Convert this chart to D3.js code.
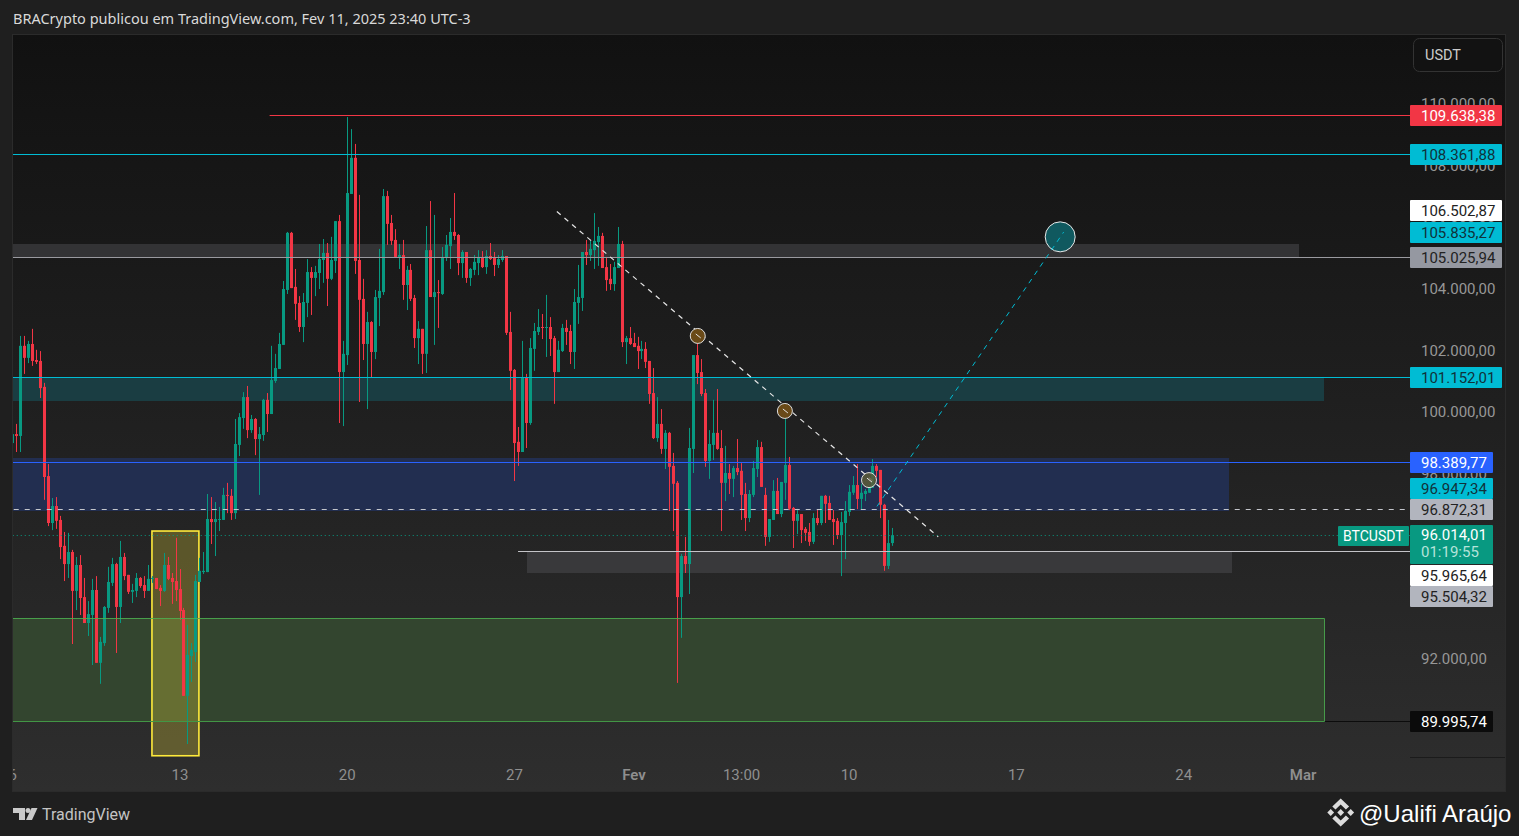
<!DOCTYPE html>
<html>
<head>
<meta charset="utf-8">
<title>BTCUSDT</title>
<script src="https://cdn.jsdelivr.net/npm/d3@7/dist/d3.min.js"></script>
<style>
  html, body { margin: 0; padding: 0; background: #1f1f1f; overflow: hidden; }
  svg { display: block; font-family: Roboto, sans-serif; }
</style>
</head>
<body>
<div id="chart"></div>
<script>
// 4h candles, first one opens Jan 6 2025 00:00
var opens = [
  99000, 99290, 99230, 102150, 101760, 102210, 101690, 101660, 100820, 97930,
  96410, 96960, 96510, 95670, 95080, 95470, 94210, 95050, 94010, 93170,
  93430, 94240, 91880, 92520, 93660, 94470, 95080, 93690, 95310, 94730,
  94180, 94210, 94630, 94400, 94210, 94600, 94630, 94310, 94210, 95050,
  94630, 94530, 94270, 93590, 90810, 92100, 92230, 94500, 94820, 94820,
  96540, 96440, 96510, 96510, 97320, 97290, 96730, 98940, 99810, 100490,
  99420, 99780, 99130, 99260, 100400, 99940, 101010, 101400, 102180, 103960,
  105810, 104060, 103540, 102760, 103540, 104540, 104350, 104510, 104930, 105160,
  104320, 104900, 106190, 101300, 101850, 107070, 108240, 104930, 103670, 102210,
  102920, 101950, 103700, 103890, 107000, 106130, 105580, 105030, 105090, 104120,
  104610, 103700, 102400, 102700, 101890, 105250, 103730, 103890, 103830, 105000,
  105380, 105840, 105740, 104830, 105190, 104350, 104610, 104830, 105030, 104700,
  105060, 105000, 104770, 104930, 105060, 102600, 101370, 99040, 98710, 101110,
  99650, 102050, 102600, 102760, 102730, 102760, 102400, 101300, 101980, 102730,
  102630, 101950, 103540, 103700, 105190, 105090, 105250, 105510, 105710, 104700,
  104320, 104150, 104670, 105450, 102270, 102400, 102240, 102150, 101980, 102050,
  101660, 100620, 99160, 99620, 98810, 99330, 98260, 97710, 94010, 95340,
  95080, 98810, 101850, 101300, 100620, 98420, 98940, 99330, 98840, 97710,
  98030, 97840, 98190, 98100, 97350, 96570, 97320, 98160, 98870, 97320,
  95960, 96510, 97450, 96700, 97710, 98290, 96900, 96480, 96700, 96220,
  96120, 95800, 96570, 96410, 97290, 97060, 96540, 96480, 96020, 96410,
  96770, 97390, 97640, 97190, 97350, 97390, 97550, 98260, 98130, 97000,
  95020, 95760
];
var highs = [
  99290, 99620, 102470, 102470, 102310, 102700, 102020, 101980, 100950, 98320,
  97220, 97250, 96640, 96120, 96090, 95540, 95310, 95370, 94630, 93880,
  94600, 94690, 92720, 93720, 94990, 95280, 95120, 95830, 95440, 94730,
  94440, 94790, 94660, 94690, 95050, 94690, 94630, 94400, 95440, 95310,
  94790, 95930, 94920, 93660, 93110, 92520, 94730, 95280, 95470, 97350,
  97250, 97090, 96930, 97550, 97710, 97510, 99780, 99970, 100650, 100850,
  99910, 99810, 99520, 100430, 100620, 102150, 101890, 102570, 104250, 105840,
  105840, 104640, 103760, 103860, 104960, 104700, 104740, 105450, 105610, 105480,
  105680, 106190, 106390, 102310, 109560, 109170, 108690, 107040, 104320, 103250,
  102950, 103960, 105290, 107230, 107170, 106390, 105930, 105450, 105580, 104740,
  104800, 103800, 102950, 102700, 106030, 106840, 106390, 104280, 105350, 105740,
  106290, 107100, 105770, 105250, 105190, 104670, 105090, 105250, 105220, 105250,
  105480, 105190, 105090, 105250, 105060, 103250, 101400, 99520, 102310, 101240,
  102400, 102890, 103340, 103180, 103800, 103080, 102470, 102310, 102860, 102990,
  102830, 103990, 104770, 105190, 105580, 105550, 106450, 106000, 105810, 105030,
  104800, 104870, 106000, 105550, 102470, 102760, 102570, 102440, 102310, 102270,
  101660, 101430, 100490, 100100, 99420, 99360, 98680, 97770, 95410, 95960,
  99490, 101850, 102500, 101720, 100750, 99420, 100400, 100750, 99420, 98910,
  98320, 98260, 99130, 98350, 97710, 97480, 98420, 99100, 99040, 97550,
  96540, 97800, 97870, 97740, 100230, 98550, 96930, 96870, 96700, 96280,
  96410, 96730, 96830, 97290, 97320, 97290, 96830, 96570, 96770, 97120,
  97640, 97930, 98320, 97680, 97510, 97580, 98480, 98320, 98130, 97030,
  96510, 96250
];
var lows = [
  99000, 98710, 98710, 101240, 101590, 101500, 101560, 100460, 97160, 96310,
  96180, 96220, 95240, 94530, 94630, 92490, 93590, 93430, 93170, 92750,
  91810, 91880, 91200, 92430, 93500, 94370, 92200, 93170, 94560, 94110,
  93820, 94010, 94310, 93980, 94210, 94470, 94270, 93720, 94180, 94560,
  93790, 93880, 93270, 90810, 89250, 91260, 91910, 94500, 94760, 94820,
  95730, 95340, 96150, 96510, 96730, 96510, 96540, 98580, 99460, 99160,
  99330, 98610, 97320, 99070, 99360, 99940, 100950, 101400, 102180, 103830,
  104020, 102990, 102600, 102270, 103080, 103150, 103760, 103990, 104190, 103440,
  104280, 104510, 99650, 99550, 101530, 107070, 104480, 100330, 101690, 100100,
  101110, 101720, 102790, 103800, 105420, 105420, 105030, 104640, 103640, 103310,
  103600, 102080, 101560, 101240, 101270, 103730, 102180, 102730, 103800, 104900,
  104640, 105580, 104440, 104350, 104190, 104090, 104440, 104440, 104670, 104480,
  104930, 104410, 104670, 104870, 102500, 100720, 97770, 98260, 98710, 98840,
  99590, 101340, 102500, 102370, 101790, 101820, 100270, 101300, 101950, 102180,
  101560, 101400, 102860, 103280, 104770, 104900, 104640, 104740, 104670, 103930,
  103960, 103930, 104670, 102110, 101560, 102180, 102110, 101400, 101720, 101430,
  100270, 99130, 99040, 98650, 98160, 96800, 96150, 91230, 92690, 94790,
  94110, 98030, 100910, 100520, 98230, 97840, 98450, 98780, 96150, 97120,
  97350, 97250, 97960, 96510, 96150, 96440, 97250, 97900, 97580, 95670,
  95800, 96510, 96700, 96600, 97160, 96830, 95600, 96050, 95760, 95830,
  95670, 95730, 96340, 96340, 96410, 96510, 95700, 95890, 94690, 95240,
  96640, 97320, 96860, 96860, 97120, 97390, 97550, 97900, 96570, 94860,
  94920, 95670
];
var closes = [
  99290, 99230, 102150, 101760, 102210, 101660, 101630, 100780, 97900, 96410,
  96960, 96480, 95630, 95080, 95470, 94210, 95050, 93980, 93170, 93460,
  94240, 91880, 92560, 93690, 94500, 95080, 93690, 95310, 94690, 94180,
  94240, 94630, 94370, 94210, 94600, 94630, 94270, 94210, 95050, 94600,
  94500, 94240, 93560, 90810, 92140, 92300, 94530, 94860, 94860, 96540,
  96440, 96540, 96540, 97320, 97290, 96730, 98970, 99840, 100490, 99420,
  99780, 99130, 99290, 100400, 99940, 101040, 101430, 102210, 103990, 105810,
  104020, 103510, 102760, 103570, 104540, 104350, 104540, 104960, 105160, 104320,
  104930, 106190, 101300, 101890, 107100, 108240, 104900, 103640, 102210, 102920,
  101950, 103730, 103930, 107000, 106100, 105550, 105030, 105090, 104120, 104610,
  103670, 102400, 102700, 101890, 105250, 103730, 103890, 103860, 105030, 105420,
  105840, 105710, 104830, 105190, 104350, 104640, 104870, 105030, 104700, 105060,
  104960, 104770, 104960, 105060, 102570, 101340, 99000, 98710, 101110, 99650,
  102080, 102630, 102760, 102730, 102760, 102370, 101300, 102020, 102730, 102600,
  101950, 103570, 103730, 105190, 105090, 105290, 105550, 105710, 104670, 104280,
  104150, 104700, 105450, 102270, 102400, 102210, 102110, 101980, 102050, 101630,
  100590, 99160, 99620, 98810, 99330, 98230, 97680, 94010, 95340, 95080,
  98840, 101850, 101270, 100590, 98420, 98970, 99330, 98810, 97710, 98030,
  97840, 98190, 98060, 97320, 96570, 97350, 98190, 98870, 97580, 95960,
  96540, 97450, 96700, 97740, 98290, 96870, 96480, 96700, 96180, 96090,
  95800, 96570, 96410, 97290, 97030, 96510, 96440, 96020, 96440, 96800,
  97420, 97640, 97190, 97390, 97450, 97580, 98260, 98100, 97000, 95020,
  95760, 96014.01
];

var priceTicks = [110000, 108000, 106000, 104000, 102000, 100000, 98000, 96000, 94000, 92000, 90000];
var timeTicks = ["2025-01-06", "2025-01-13", "2025-01-20", "2025-01-27", "2025-02-01", "2025-02-05T12:00", "2025-02-10", "2025-02-17", "2025-02-24", "2025-03-01"];
var timeLabels = ["6", "13", "20", "27", "Fev", "13:00", "10", "17", "24", "Mar"];

// shaded price zones
var zoneTops = [105450, 101152.01, 98530, 95504.32, 93330];
var zoneBottoms = [105025.94, 100360, 96800, 94790, 89995.74];
var zoneStarts = ["2025-01-01", "2025-01-01", "2025-01-01", "2025-01-27T13:00", "2025-01-01"];
var zoneEnds = ["2025-02-28T20:40", "2025-03-01T21:00", "2025-02-25T21:40", "2025-02-26T01:00", "2025-03-01T21:00"];

// yellow box round the Jan 13 wick
var boxStart = "2025-01-11T20:20";
var boxEnd = "2025-01-13T19:30";
var boxTop = 96150;
var boxBottom = 88870;

// horizontal lines
var linePrices = [109638.38, 108361.88, 105025.94, 101152.01, 98389.77, 96872.31, 96014.01, 95504.32, 89995.74];
var lineStarts = ["2025-01-16T18:30", "2025-01-01", "2025-01-01", "2025-01-01", "2025-01-01", "2025-01-01", "2025-01-01", "2025-01-27T04:00", "2025-01-01"];

// diagonal trend and target lines
var trendTimes = ["2025-01-28T19:00", "2025-02-13T18:00"];
var trendPrices = [106502.87, 95965.64];
var targetTimes = ["2025-02-11T04:30", "2025-02-19T00:00"];
var targetPrices = [96947.34, 105835.27];

// touch points on the trend line
var touchTimes = ["2025-02-03T16:30", "2025-02-07T08:00", "2025-02-10T20:30"];
var touchPrices = [102470, 100040, 97800];
var goalTime = "2025-02-18T20:30";
var goalPrice = 105680;

// labels on the price scale
var tagPrices = [109638.38, 108361.88, 106502.87, 105835.27, 105025.94, 101152.01, 98389.77, 96947.34, 96872.31, 95965.64, 95504.32, 89995.74];

var svgWidth = 1519;
var svgHeight = 836;
var pane = { left: 13, right: 1506, top: 35, bottom: 792 };
var scaleX = 1410;
var axisY = 757;

var upColor = "#089981";
var downColor = "#f23645";

var zoneFills = ["#333335", "#1a3d42", "#222e50", "#39393b", "#33452f"];
var lineColors = ["#f23645", "#00bcd4", "#9a9aa0", "#00bcd4", "#2962ff", "#c4c6cc", "#089981", "#c4c4c8", "#0c0c0c"];
var lineDashes = [null, null, null, null, null, "5,6", "1,3", null, null];
var tagFills = ["#f23645", "#00bcd4", "#ffffff", "#00bcd4", "#9598a1", "#00bcd4", "#2962ff", "#00bcd4", "#b2b5be", "#ffffff", "#b2b5be", "#0b0b0b"];
var tagInks = ["#ffffff", "#10323a", "#222222", "#10323a", "#222222", "#10323a", "#ffffff", "#10323a", "#222222", "#222222", "#222222", "#ffffff"];
// the scale pushes crowded labels away from their price
var tagNudge = { 106502.87: -1, 96947.34: -18, 95965.64: 38, 95504.32: 45 };

var ptBR = d3.formatLocale({ decimal: ",", thousands: ".", grouping: [3], currency: ["", ""] });
var priceFormat = ptBR.format(",.2f");

function utc(s) {
  return new Date(s.length > 10 ? s + "Z" : s + "T00:00Z");
}

var x = d3.scaleUtc()
  .domain([utc("2025-01-13"), utc("2025-02-10")])
  .range([179.5, 848.6]);

var y = d3.scaleLinear()
  .domain([110000, 89995.74])
  .range([103.5, 721]);

function crisp(v) {
  return Math.round(v) + 0.5;
}

var candles = opens.map(function(o, i) {
  return {
    time: d3.utcHour.offset(utc("2025-01-06"), i * 4),
    open: o,
    high: highs[i],
    low: lows[i],
    close: closes[i]
  };
});

var svg = d3.select("#chart").append("svg")
  .attr("width", svgWidth)
  .attr("height", svgHeight);

var defs = svg.append("defs");

var grad = defs.append("linearGradient")
  .attr("id", "paneFill")
  .attr("x1", 0).attr("x2", 0).attr("y1", 0).attr("y2", 1);
grad.append("stop").attr("offset", "0%").attr("stop-color", "#111111");
grad.append("stop").attr("offset", "100%").attr("stop-color", "#2e2e2e");

defs.append("clipPath").attr("id", "paneClip").append("rect")
  .attr("x", pane.left)
  .attr("y", pane.top)
  .attr("width", pane.right - pane.left)
  .attr("height", pane.bottom - pane.top);

defs.append("clipPath").attr("id", "plotClip").append("rect")
  .attr("x", pane.left)
  .attr("y", pane.top)
  .attr("width", scaleX - pane.left)
  .attr("height", pane.bottom - pane.top);

svg.append("rect")
  .attr("x", pane.left - 0.5)
  .attr("y", pane.top - 0.5)
  .attr("width", pane.right - pane.left)
  .attr("height", pane.bottom - pane.top)
  .attr("fill", "url(#paneFill)")
  .attr("stroke", "#2b2b2b");

var plot = svg.append("g").attr("clip-path", "url(#plotClip)");

// zones
plot.selectAll(".zone")
  .data(zoneTops)
  .enter()
  .append("rect")
  .attr("class", "zone")
  .attr("x", (d, i) => Math.round(x(utc(zoneStarts[i]))))
  .attr("y", d => Math.round(y(d)))
  .attr("width", (d, i) => Math.round(x(utc(zoneEnds[i]))) - Math.round(x(utc(zoneStarts[i]))))
  .attr("height", (d, i) => Math.round(y(zoneBottoms[i])) - Math.round(y(d)))
  .attr("fill", (d, i) => zoneFills[i]);

plot.append("rect")
  .attr("x", x(utc(boxStart)))
  .attr("y", y(boxTop))
  .attr("width", x(utc(boxEnd)) - x(utc(boxStart)))
  .attr("height", y(boxBottom) - y(boxTop))
  .attr("fill", "#ffeb3b")
  .attr("fill-opacity", 0.25)
  .attr("stroke", "#ffeb3b")
  .attr("stroke-width", 1.6);

// candles
var candleGroup = plot.append("g");

candleGroup.selectAll(".wick")
  .data(candles)
  .enter()
  .append("rect")
  .attr("class", "wick")
  .attr("x", d => Math.round(x(d.time)))
  .attr("y", d => y(d.high))
  .attr("width", 1)
  .attr("height", d => y(d.low) - y(d.high))
  .attr("fill", d => d.close >= d.open ? upColor : downColor);

candleGroup.selectAll(".body")
  .data(candles)
  .enter()
  .append("rect")
  .attr("class", "body")
  .attr("x", d => Math.round(x(d.time)) - 1)
  .attr("y", d => y(Math.max(d.open, d.close)))
  .attr("width", 3)
  .attr("height", d => Math.max(1, Math.abs(y(d.open) - y(d.close))))
  .attr("fill", d => d.close >= d.open ? upColor : downColor);

// horizontal lines
plot.selectAll(".level")
  .data(linePrices)
  .enter()
  .append("line")
  .attr("class", "level")
  .attr("x1", (d, i) => x(utc(lineStarts[i])))
  .attr("x2", scaleX)
  .attr("y1", d => crisp(y(d)))
  .attr("y2", d => crisp(y(d)))
  .attr("stroke", (d, i) => lineColors[i])
  .attr("stroke-dasharray", (d, i) => lineDashes[i]);

// green zone border sits over the black line
var greenEnd = crisp(x(utc(zoneEnds[4])));
plot.append("path")
  .attr("d", "M" + pane.left + "," + crisp(y(zoneTops[4])) + "H" + greenEnd + "V" + crisp(y(zoneBottoms[4])) + "H" + pane.left)
  .attr("fill", "none")
  .attr("stroke", "#4caf50")
  .attr("stroke-opacity", 0.85)
  .attr("stroke-width", 1);

// diagonals
var diagonal = d3.line()
  .x(d => x(utc(d[0])))
  .y(d => y(d[1]));

plot.append("path")
  .attr("d", diagonal(d3.zip(trendTimes, trendPrices)))
  .attr("fill", "none")
  .attr("stroke", "#e6e6e6")
  .attr("stroke-width", 1.2)
  .attr("stroke-dasharray", "5,5");

// touch points
plot.selectAll(".touch")
  .data(touchPrices)
  .enter()
  .append("circle")
  .attr("class", "touch")
  .attr("cx", (d, i) => x(utc(touchTimes[i])))
  .attr("cy", d => y(d))
  .attr("r", 7.5)
  .attr("fill", (d, i) => i == 2 ? "#5b5a38" : "#6a4a18")
  .attr("fill-opacity", (d, i) => i == 2 ? 0.85 : 1)
  .attr("stroke", "#dedede")
  .attr("stroke-width", 1);

plot.append("circle")
  .attr("cx", x(utc(goalTime)))
  .attr("cy", y(goalPrice))
  .attr("r", 15)
  .attr("fill", "#10595f")
  .attr("stroke", "#e8e8e8")
  .attr("stroke-width", 1);

plot.append("path")
  .attr("d", diagonal(d3.zip(targetTimes, targetPrices)))
  .attr("fill", "none")
  .attr("stroke", "#00bcd4")
  .attr("stroke-width", 1)
  .attr("stroke-dasharray", "5,5");

// short line ends drawn over the touch points
plot.selectAll(".touchMark")
  .data(touchPrices)
  .enter()
  .append("line")
  .attr("class", "touchMark")
  .attr("x1", (d, i) => x(utc(touchTimes[i])) - 2)
  .attr("x2", (d, i) => x(utc(touchTimes[i])) + 3)
  .attr("y1", d => y(d) - 2)
  .attr("y2", d => y(d) + 2)
  .attr("stroke", "#e6e6e6");

// axes
var priceAxis = d3.axisRight(y)
  .tickValues(priceTicks)
  .tickSize(0)
  .tickPadding(11)
  .tickFormat(priceFormat);

var priceAxisGroup = svg.append("g")
  .attr("transform", `translate(${scaleX}, 0)`)
  .call(priceAxis);
priceAxisGroup.select(".domain").remove();
priceAxisGroup.selectAll("text")
  .attr("fill", "#979797")
  .attr("font-size", 15)
  .attr("font-family", "Roboto, sans-serif");

var timeAxis = d3.axisBottom(x)
  .tickValues(timeTicks.map(utc))
  .tickSize(0)
  .tickPadding(12)
  .tickFormat((d, i) => timeLabels[i]);

var timeAxisGroup = svg.append("g")
  .attr("clip-path", "url(#paneClip)")
  .append("g")
  .attr("transform", `translate(0, ${axisY})`)
  .call(timeAxis);
timeAxisGroup.select(".domain").remove();
timeAxisGroup.selectAll("text")
  .attr("fill", "#8f8f8f")
  .attr("font-size", 15)
  .attr("font-family", "Roboto, sans-serif")
  .attr("font-weight", (d, i) => isNaN(+timeLabels[i]) && timeLabels[i] != "13:00" ? 600 : 400);

svg.append("line")
  .attr("x1", scaleX)
  .attr("x2", pane.right - 1)
  .attr("y1", axisY + 0.5)
  .attr("y2", axisY + 0.5)
  .attr("stroke", "#1b1b1b");

// price tags
var tags = svg.selectAll(".tag")
  .data(tagPrices)
  .enter()
  .append("g")
  .attr("class", "tag")
  .attr("transform", d => `translate(${scaleX}, ${Math.round(y(d)) + (tagNudge[d] || 0)})`);

tags.append("rect")
  .attr("x", 0)
  .attr("y", -10)
  .attr("width", d => d >= 100000 ? 92 : 83)
  .attr("height", 21)
  .attr("rx", 1)
  .attr("fill", (d, i) => tagFills[i]);

tags.append("text")
  .attr("x", 11)
  .attr("y", 0.5)
  .attr("dy", "0.35em")
  .attr("font-size", 15)
  .attr("fill", (d, i) => tagInks[i])
  .text(d => priceFormat(d));

// current price tag
var last = closes[closes.length - 1];
var lastY = Math.round(y(last));

svg.append("rect")
  .attr("x", 1338).attr("y", lastY - 9)
  .attr("width", 71).attr("height", 20)
  .attr("rx", 1)
  .attr("fill", upColor);
svg.append("text")
  .attr("x", 1343).attr("y", lastY + 6)
  .attr("font-size", 14)
  .attr("fill", "#ffffff")
  .text("BTCUSDT");

svg.append("rect")
  .attr("x", scaleX).attr("y", lastY - 10)
  .attr("width", 83).attr("height", 39)
  .attr("rx", 1)
  .attr("fill", upColor);
svg.append("text")
  .attr("x", scaleX + 11).attr("y", lastY + 5)
  .attr("font-size", 15)
  .attr("fill", "#ffffff")
  .text(priceFormat(last));
svg.append("text")
  .attr("x", scaleX + 11).attr("y", lastY + 22)
  .attr("font-size", 15)
  .attr("fill", "#b5e3da")
  .text("01:19:55");

// currency button
svg.append("rect")
  .attr("x", 1413.5).attr("y", 38.5)
  .attr("width", 89).attr("height", 33)
  .attr("rx", 6)
  .attr("fill", "#121212")
  .attr("stroke", "#333333");
svg.append("text")
  .attr("x", 1425).attr("y", 60)
  .attr("font-size", 14.5)
  .attr("fill", "#cccccc")
  .text("USDT");

// header and footer
svg.append("text")
  .attr("x", 13).attr("y", 24)
  .attr("font-size", 14.5)
  .attr("font-family", "'Noto Sans', sans-serif")
  .attr("fill", "#d9d9d9")
  .text("BRACrypto publicou em TradingView.com, Fev 11, 2025 23:40 UTC-3");

var tvLogo = svg.append("g")
  .attr("transform", "translate(13, 808)")
  .attr("fill", "#c9c9c9");
tvLogo.append("path").attr("d", "M0,0H12V12H6V5H0Z");
tvLogo.append("circle").attr("cx", 15).attr("cy", 2.5).attr("r", 2.5);
tvLogo.append("path").attr("d", "M18.5,0H24.5L19,12H13Z");

svg.append("text")
  .attr("x", 42).attr("y", 819.5)
  .attr("font-size", 16)
  .attr("fill", "#c4c4c4")
  .text("TradingView");

var bnbLogo = svg.append("g")
  .attr("transform", "translate(1340.7, 812.5)")
  .attr("fill", "#dcdcdc");
bnbLogo.append("path").attr("d", "M0,-3.4L3.4,0L0,3.4L-3.4,0Z");
bnbLogo.append("path").attr("d", "M-10,-3.4L-6.6,0L-10,3.4L-13.4,0Z");
bnbLogo.append("path").attr("d", "M10,-3.4L13.4,0L10,3.4L6.6,0Z");
bnbLogo.append("path").attr("d", "M0,-8L5.2,-2.9L8.4,-6L0,-14L-8.4,-6L-5.2,-2.9Z");
bnbLogo.append("path").attr("d", "M0,8L5.2,2.9L8.4,6L0,14L-8.4,6L-5.2,2.9Z");

svg.append("text")
  .attr("x", 1359).attr("y", 821.5)
  .attr("font-size", 24)
  .attr("font-family", "'Liberation Sans', Arial, sans-serif")
  .attr("fill", "#ffffff")
  .text("@Ualifi Araújo");
</script>
</body>
</html>
